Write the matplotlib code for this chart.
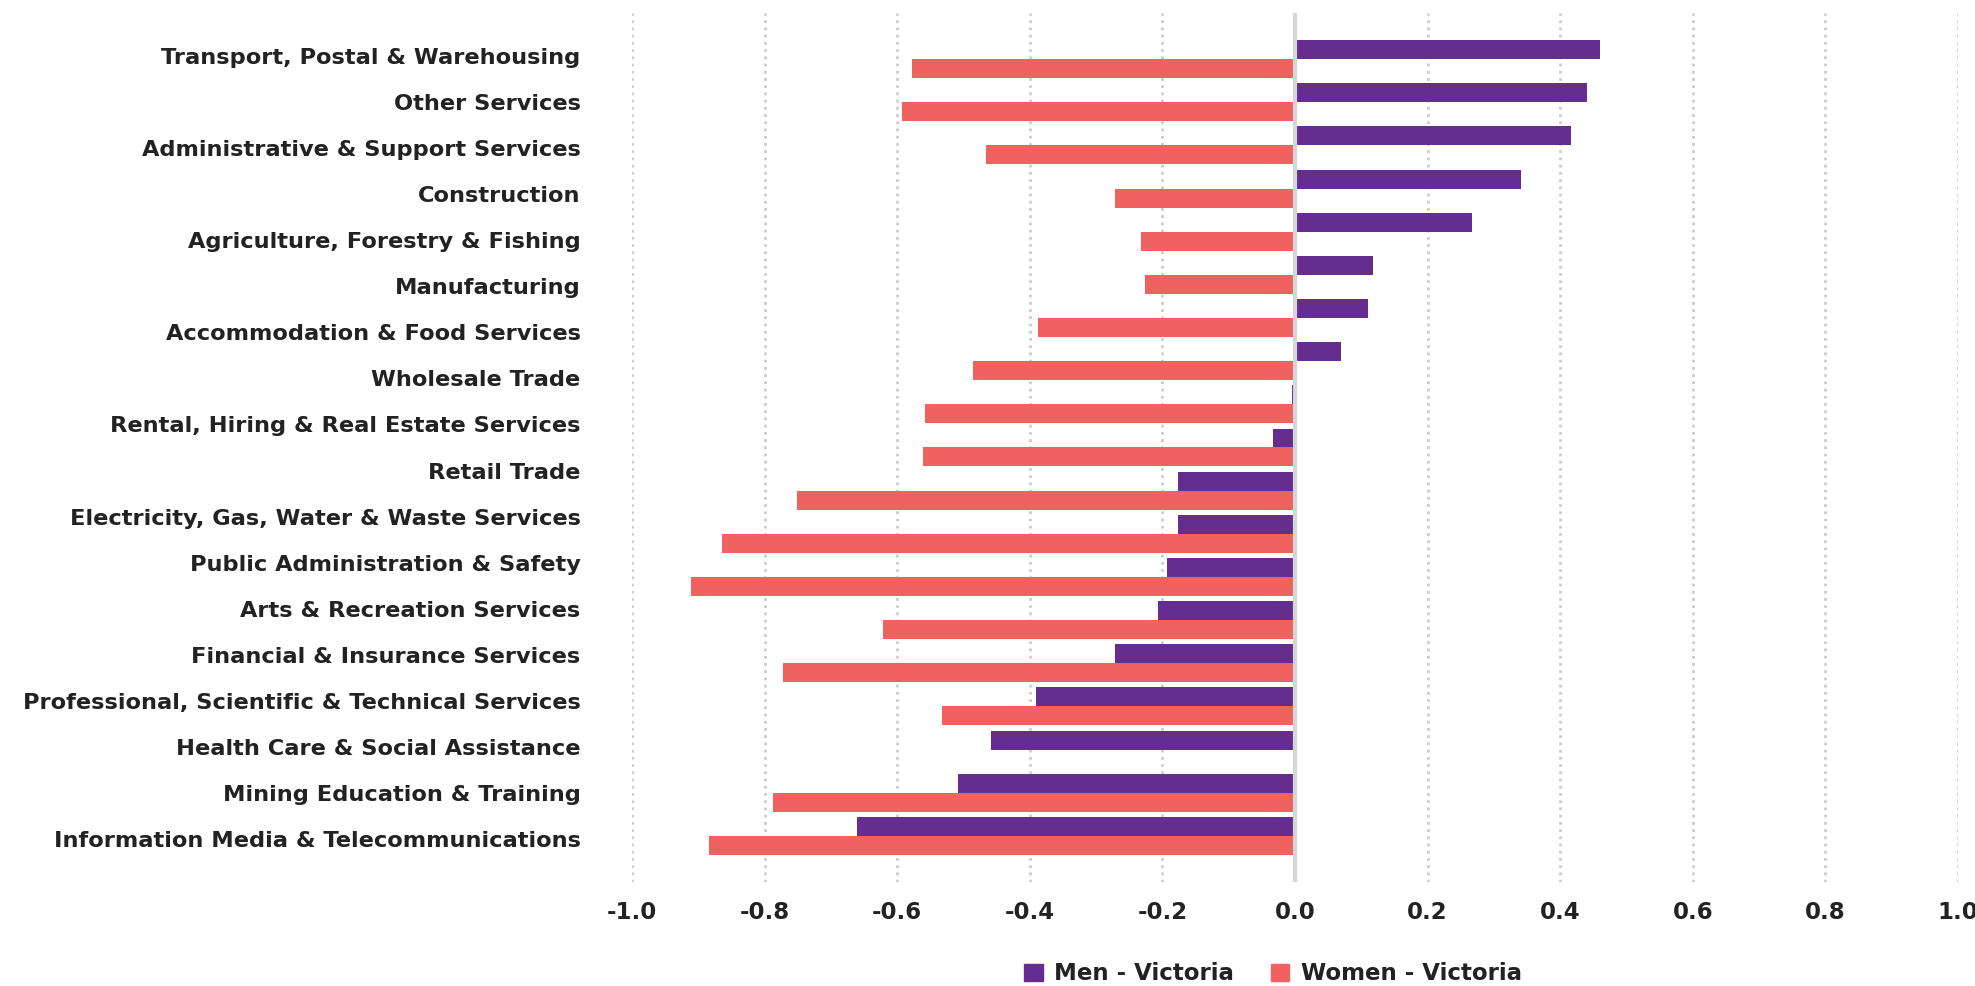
import numpy as np
import matplotlib
matplotlib.use("Agg")
import matplotlib.pyplot as plt
from matplotlib.patches import Patch

# category labels as printed on the chart (18 of them)
labels = [
    "Transport, Postal & Warehousing",
    "Other Services",
    "Administrative & Support Services",
    "Construction",
    "Agriculture, Forestry & Fishing",
    "Manufacturing",
    "Accommodation & Food Services",
    "Wholesale Trade",
    "Rental, Hiring & Real Estate Services",
    "Retail Trade",
    "Electricity, Gas, Water & Waste Services",
    "Public Administration & Safety",
    "Arts & Recreation Services",
    "Financial & Insurance Services",
    "Professional, Scientific & Technical Services",
    "Health Care & Social Assistance",
    "Mining Education & Training",
    "Information Media & Telecommunications",
]

# bar values (19 rows of data, one row has no women value)
men = [0.460, 0.441, 0.416, 0.341, 0.267, 0.118, 0.110, 0.069, -0.005, -0.033,
       -0.176, -0.177, -0.193, -0.207, -0.271, -0.390, -0.458, -0.508, -0.660]
women = [-0.578, -0.593, -0.466, -0.272, -0.233, -0.226, -0.387, -0.486, -0.558, -0.561,
         -0.751, -0.865, -0.911, -0.621, -0.773, -0.533, np.nan, -0.787, -0.884]

xticks = [-1.0, -0.8, -0.6, -0.4, -0.2, 0.0, 0.2, 0.4, 0.6, 0.8, 1.0]
xtick_labels = ["-1.0", "-0.8", "-0.6", "-0.4", "-0.2", "0.0", "0.2", "0.4", "0.6", "0.8", "1.0"]

PURPLE = "#652d90"
CORAL = "#f06260"
TXT = "#222222"

plt.rcParams['font.family'] = ['DejaVu Sans']

fig = plt.figure(figsize=(19.75, 9.86), dpi=100)
ax = fig.add_axes([632 / 1975, 1 - 882 / 986, (1958 - 632) / 1975, (882 - 13) / 986])

y = np.arange(len(men))
h = 0.44
ax.barh(y - h / 2, men, height=h, color=PURPLE, linewidth=0, zorder=2)
ax.barh(y + h / 2, women, height=h, color=CORAL, linewidth=0, zorder=2)

pad = 1.066
ax.set_ylim(len(men) - 1 + pad, -pad)
ax.set_xlim(-1, 1)

# labels are spread evenly, not aligned with the bar rows
ax.set_yticks(np.linspace(-0.06, len(men) - 1 + 0.06, len(labels)))
ax.set_yticklabels(labels, fontsize=16.2, fontweight="semibold", color=TXT)
ax.set_xticks(xticks)
ax.set_xticklabels(xtick_labels, fontsize=16.5, fontweight="bold", color=TXT)
ax.tick_params(axis="y", length=0, pad=37)
ax.tick_params(axis="x", length=0, pad=13.5)

ax.xaxis.grid(True, linestyle=(0, (1, 1.6)), color="#cccccc", linewidth=2, zorder=0)
ax.set_axisbelow(True)
ax.axvline(0, color="#d6d6d6", linewidth=3, zorder=3)
for s in ax.spines.values():
    s.set_visible(False)

handles = [Patch(color=PURPLE, label="Men - Victoria"), Patch(color=CORAL, label="Women - Victoria")]
fig.legend(handles=handles, loc="center", bbox_to_anchor=(1273 / 1975, 1 - 974 / 986), ncol=2,
           frameon=False, handlelength=0.8, handleheight=0.8, handletextpad=0.5, columnspacing=1.6,
           prop={"size": 16.5, "weight": "bold"}, labelcolor=TXT)

fig.savefig("out.png", dpi=100)
